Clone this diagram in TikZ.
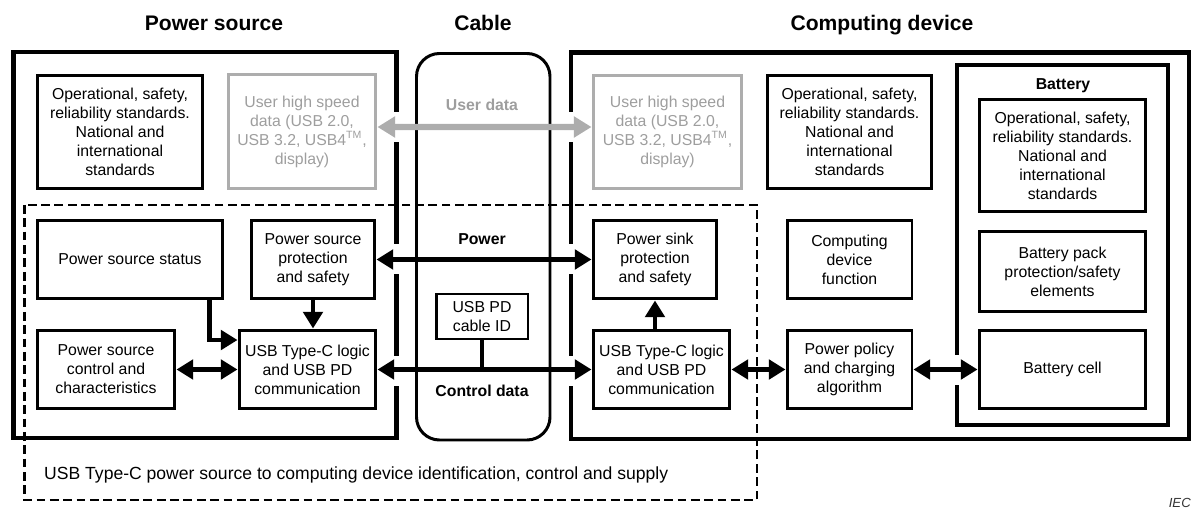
\documentclass[tikz,border=0pt]{standalone}
\usepackage{fontspec}
\setmainfont{Liberation Sans}
\usetikzlibrary{arrows.meta}

\begin{document}
\begin{tikzpicture}[x=0.02cm, y=-0.02cm,
  frame/.style={draw=black, line width=2.3pt},
  box/.style={rectangle, draw=black, line width=1.7pt, align=center,
              font=\fontsize{9}{10.8}\selectfont, inner sep=2pt},
  greybox/.style={box, draw=black!32, text=black!38},
  ttl/.style={anchor=base, font=\fontsize{12}{14}\selectfont\bfseries},
  lbl/.style={anchor=base, font=\fontsize{9}{10.8}\selectfont\bfseries},
  arr/.style={->, line width=2.8pt, draw=black, >={Triangle[length=9.5pt,width=11pt]}},
  greyarr/.style={arr, <->, line width=3.6pt, draw=black!32, >={Triangle[length=10pt,width=11.5pt]}},
  dashbox/.style={draw=black, line width=1.7pt, dash pattern=on 5pt off 2.6pt}]
  \useasboundingbox (0,0) rectangle (1198,510);
  % titles
  \node[ttl] (TPS) at (214,31) {Power source};
  \node[ttl] (TCB) at (483,31) {Cable};
  \node[ttl] (TCD) at (882,31) {Computing device};
  % frames
  \draw[frame] (13.5,52) rectangle (396.5,438);
  \draw[frame] (571,52.5) rectangle (1189,439);
  \draw[frame] (957,65) rectangle (1168,425);
  \draw[line width=1.7pt, rounded corners=0.46cm] (416.5,53.5) rectangle (550,440);
  % gaps in the frames
  \foreach \gy in {127,259,371} {
    \fill[white] (390,\gy-15) rectangle (403,\gy+15);
    \fill[white] (564,\gy-15) rectangle (578,\gy+15);
  }
  \fill[white] (950,355) rectangle (964,385);
  \draw[dashbox] (24.5,205) rectangle (757,500);
  % power source
  \node[box, minimum width=3.32cm, minimum height=2.28cm] (PSO) at (120,132)
    {Operational, safety,\\reliability standards.\\National and\\international\\standards};
  \node[greybox, minimum width=2.96cm, minimum height=2.3cm] (PSH) at (302,131.5)
    {User high speed\\data (USB 2.0,\\USB 3.2, USB4\textsuperscript{TM},\\display)};
  \node[box, minimum width=3.72cm, minimum height=1.58cm] (PSS) at (130,259.5) {Power source status};
  \node[box, minimum width=2.48cm, minimum height=1.58cm] (PSP) at (313,259.5)
    {Power source\\protection\\and safety};
  \node[box, minimum width=2.76cm, minimum height=1.58cm] (PSC) at (106,369.5)
    {Power source\\control and\\characteristics};
  \node[box, minimum width=2.74cm, minimum height=1.58cm] (PSL) at (307.5,369.5)
    {USB Type-C logic\\and USB PD\\communication};
  % cable
  \node[lbl, text=black!38] (UD) at (482,111) {User data};
  \node[lbl] (PW) at (482,245) {Power};
  \node[lbl] (CD) at (482,396) {Control data};
  \node[box, minimum width=1.84cm, minimum height=0.9cm] (CID) at (482,316.5) {USB PD\\cable ID};
  % computing device
  \node[greybox, minimum width=2.98cm, minimum height=2.28cm] (CDH) at (667.5,132)
    {User high speed\\data (USB 2.0,\\USB 3.2, USB4\textsuperscript{TM},\\display)};
  \node[box, minimum width=3.3cm, minimum height=2.28cm] (CDO) at (849.5,132)
    {Operational, safety,\\reliability standards.\\National and\\international\\standards};
  \node[box, minimum width=2.48cm, minimum height=1.58cm] (CDP) at (655,259.5)
    {Power sink\\protection\\and safety};
  \node[box, minimum width=2.74cm, minimum height=1.58cm] (CDL) at (661.5,369.5)
    {USB Type-C logic\\and USB PD\\communication};
  \node[box, minimum width=2.5cm, minimum height=1.58cm] (CDF) at (849.5,259.5)
    {Computing\\device\\function};
  \node[box, minimum width=2.5cm, minimum height=1.58cm] (CDA) at (849.5,369.5)
    {Power policy\\and charging\\algorithm};
  % battery
  \node[lbl] (BAT) at (1063,90) {Battery};
  \node[box, minimum width=3.34cm, minimum height=2.26cm] (BO) at (1062.5,155.5)
    {Operational, safety,\\reliability standards.\\National and\\international\\standards};
  \node[box, minimum width=3.34cm, minimum height=1.62cm] (BP) at (1062.5,271.5)
    {Battery pack\\protection/safety\\elements};
  \node[box, minimum width=3.34cm, minimum height=1.58cm] (BC) at (1062.5,369.5) {Battery cell};
  % connectors
  \draw[greyarr] ([yshift=0.09cm]PSH.east) -- ([yshift=0.1cm]CDH.west);
  \draw[arr, <->] (PSP) -- (CDP);
  \draw[arr, <->] (PSL) -- (CDL);
  \draw[line width=2.8pt] (CID.south) -- (CID.south |- PSL.east);
  \draw[arr] ([xshift=-0.3cm]PSS.south east) |- ([yshift=0.59cm]PSL.west);
  \draw[arr] (PSP.south) -- (PSP.south |- PSL.north);
  \draw[arr, <->] (PSC) -- (PSL);
  \draw[arr] (CDL.north -| CDP.south) -- (CDP.south);
  \draw[arr, <->] (CDL) -- (CDA);
  \draw[arr, <->] (CDA) -- (BC);
  % notes
  \node[anchor=west, font=\fontsize{10}{12}\selectfont] (NOTE) at (38,475)
    {USB Type-C power source to computing device identification, control and supply};
  \node[anchor=east, font=\fontsize{7.5}{9}\selectfont\itshape, text=black!80] (IEC) at (1197,503) {IEC};
\end{tikzpicture}
\end{document}
